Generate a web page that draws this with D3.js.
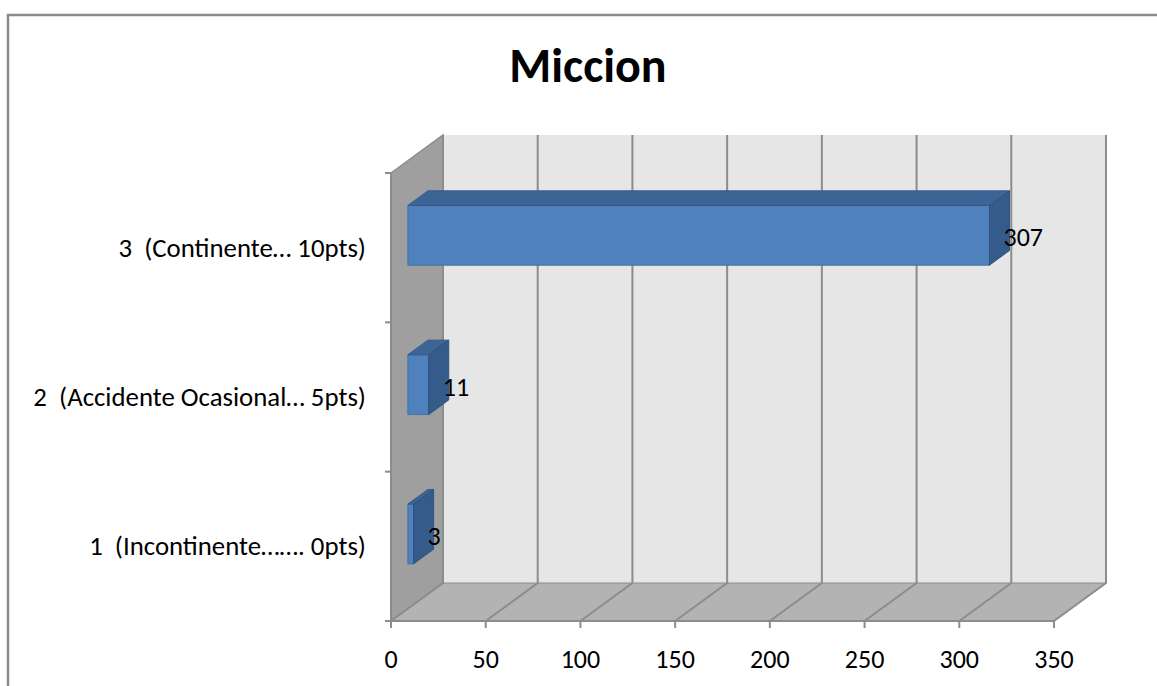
<!DOCTYPE html>
<html>
<head>
<meta charset="utf-8">
<script src="https://cdn.jsdelivr.net/npm/d3@7"></script>
<style>
  html, body { margin: 0; padding: 0; background: #ffffff; }
  svg { display: block; }
  text { font-family: Calibri, Carlito, Lato, "Open Sans", sans-serif; fill: #000; }
</style>
</head>
<body>
<svg id="chart" width="1157" height="686"></svg>
<script>
// Chart data
const title = "Miccion";
const categories = [
  "1  (Incontinente……. 0pts)",
  "2  (Accidente Ocasional… 5pts)",
  "3  (Continente… 10pts)"
];
const values = [3, 11, 307];
const xTicks = [0, 50, 100, 150, 200, 250, 300, 350];

const svg = d3.select("#chart");

// Plot frame (front face of the 3D box) and the depth offset of the back wall
const frontLeft = 391, frontRight = 1054, frontTop = 173, frontBottom = 621;
const depthX = 52, depthY = -38;
// Bars sit between these fractions of the depth
const barFront = 0.325, barBack = 0.71;

const x = d3.scaleLinear().domain([0, 350]).range([frontLeft, frontRight]);
const y = d3.scaleBand()
  .domain(categories.slice().reverse())
  .range([frontTop, frontBottom])
  .paddingInner(0.6).paddingOuter(0.3);

// Outer chart border (top and left edges visible)
svg.append("path")
  .attr("d", "M8,686 L8,15 L1157,15")
  .attr("fill", "none").attr("stroke", "#8a8a8a").attr("stroke-width", 2.5);

// Title
svg.append("text")
  .attr("x", 588).attr("y", 82)
  .attr("text-anchor", "middle")
  .attr("font-size", 48).attr("font-weight", "bold")
  .text(title);

const wallStroke = "#8c8c8c";

// Back wall
svg.append("rect")
  .attr("x", frontLeft + depthX).attr("y", frontTop + depthY)
  .attr("width", frontRight - frontLeft).attr("height", frontBottom - frontTop)
  .attr("fill", "#e6e6e6");

// Side wall (left)
svg.append("polygon")
  .attr("points", [
    [frontLeft, frontTop], [frontLeft + depthX, frontTop + depthY],
    [frontLeft + depthX, frontBottom + depthY], [frontLeft, frontBottom]
  ].map(p => p.join(",")).join(" "))
  .attr("fill", "#9f9f9f").attr("stroke", wallStroke).attr("stroke-width", 1.5);

// Floor
svg.append("polygon")
  .attr("points", [
    [frontLeft, frontBottom], [frontRight, frontBottom],
    [frontRight + depthX, frontBottom + depthY], [frontLeft + depthX, frontBottom + depthY]
  ].map(p => p.join(",")).join(" "))
  .attr("fill", "#b3b3b3");

// Gridlines: along the floor and up the back wall
const grid = svg.append("g").attr("stroke", wallStroke).attr("stroke-width", 2).attr("fill", "none");
xTicks.forEach(t => {
  const gx = x(t);
  grid.append("path")
    .attr("d", `M${gx},${frontBottom} L${gx + depthX},${frontBottom + depthY} L${gx + depthX},${frontTop + depthY}`);
});
// Back-wall floor edge
grid.append("line")
  .attr("x1", frontLeft + depthX).attr("x2", frontRight + depthX)
  .attr("y1", frontBottom + depthY).attr("y2", frontBottom + depthY)
  .attr("stroke-width", 1);

// Bars (front, top and right faces)
const faceColors = { front: "#4f81bd", top: "#3c6595", side: "#355b8a" };
const fx = depthX * barFront, fy = depthY * barFront;
const bx = depthX * barBack, by = depthY * barBack;
const bars = svg.append("g");
categories.forEach((c, i) => {
  const v = values[i];
  const x0 = x(0), x1 = x(v);
  const y0 = y(c), y1 = y(c) + y.bandwidth();
  const g = bars.append("g");
  // front
  g.append("rect")
    .attr("x", x0 + fx).attr("y", y0 + fy)
    .attr("width", x1 - x0).attr("height", y1 - y0)
    .attr("fill", faceColors.front).attr("stroke", "#4372a8").attr("stroke-width", 1);
  // top
  g.append("polygon")
    .attr("points", [
      [x0 + fx, y0 + fy], [x1 + fx, y0 + fy], [x1 + bx, y0 + by], [x0 + bx, y0 + by]
    ].map(p => p.join(",")).join(" "))
    .attr("fill", faceColors.top).attr("stroke", "#36598a").attr("stroke-width", 1);
  // right side
  g.append("polygon")
    .attr("points", [
      [x1 + fx, y0 + fy], [x1 + bx, y0 + by], [x1 + bx, y1 + by], [x1 + fx, y1 + fy]
    ].map(p => p.join(",")).join(" "))
    .attr("fill", faceColors.side).attr("stroke", "#30537e").attr("stroke-width", 1);
  // value label
  svg.append("text")
    .attr("x", x1 + bx - 6)
    .attr("y", (y0 + y1) / 2 + fy + 11)
    .attr("font-size", 26)
    .text(v);
});

// Category axis
const yAxisG = svg.append("g");
yAxisG.append("line")
  .attr("x1", frontLeft).attr("x2", frontLeft)
  .attr("y1", frontTop).attr("y2", frontBottom)
  .attr("stroke", wallStroke).attr("stroke-width", 2);
const boundaries = d3.range(categories.length + 1).map(k => frontTop + k * (frontBottom - frontTop) / categories.length);
boundaries.forEach(b => {
  yAxisG.append("line")
    .attr("x1", frontLeft - 6).attr("x2", frontLeft)
    .attr("y1", b).attr("y2", b)
    .attr("stroke", wallStroke).attr("stroke-width", 2);
});
categories.forEach(c => {
  yAxisG.append("text")
    .attr("x", 366)
    .attr("y", y(c) + y.bandwidth() / 2 + 9)
    .attr("text-anchor", "end")
    .attr("font-size", 26.8)
    .style("white-space", "pre")
    .text(c);
});

// Value axis
const xAxisG = svg.append("g");
xAxisG.append("line")
  .attr("x1", frontLeft - 6).attr("x2", frontRight)
  .attr("y1", frontBottom).attr("y2", frontBottom)
  .attr("stroke", wallStroke).attr("stroke-width", 2);
xTicks.forEach(t => {
  xAxisG.append("line")
    .attr("x1", x(t)).attr("x2", x(t))
    .attr("y1", frontBottom).attr("y2", frontBottom + 7)
    .attr("stroke", wallStroke).attr("stroke-width", 2);
  xAxisG.append("text")
    .attr("x", x(t)).attr("y", 668)
    .attr("text-anchor", "middle")
    .attr("font-size", 26)
    .text(t);
});
</script>
</body>
</html>
